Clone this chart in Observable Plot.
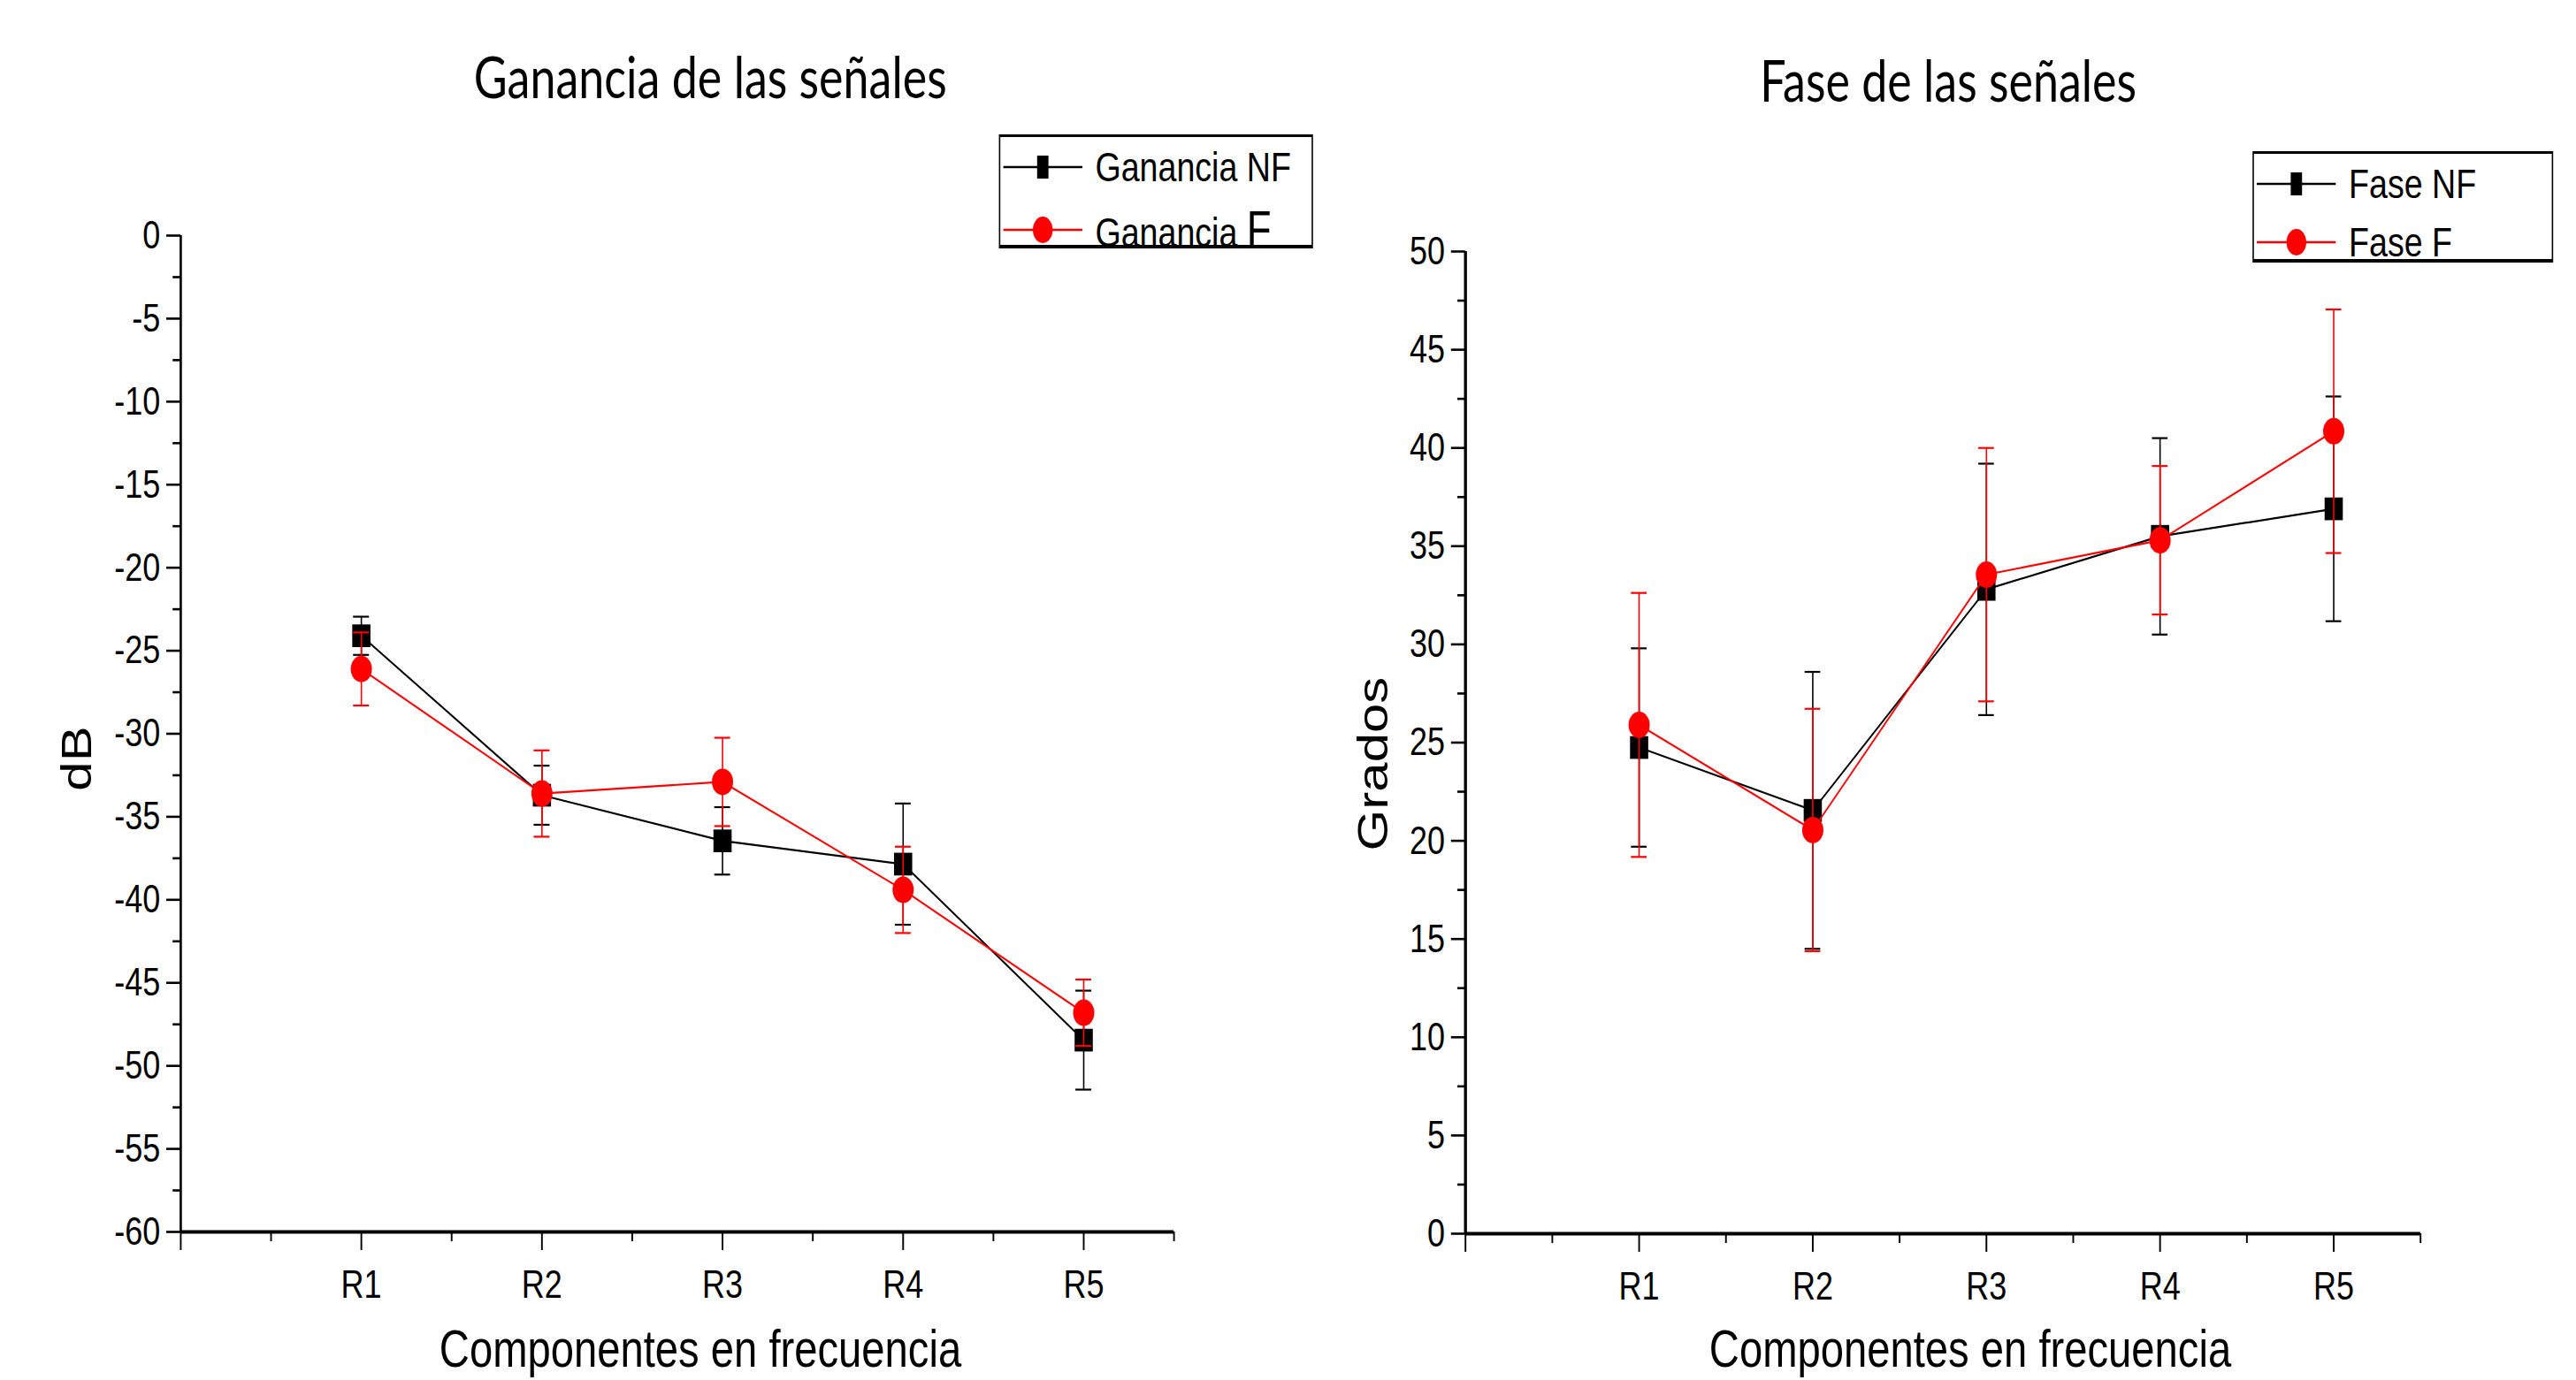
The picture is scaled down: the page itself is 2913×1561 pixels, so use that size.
<!DOCTYPE html>
<html><head><meta charset="utf-8">
<script src="https://cdn.jsdelivr.net/npm/d3@7"></script>
<script src="https://cdn.jsdelivr.net/npm/@observablehq/plot@0.6"></script>
<style>
html,body{margin:0;background:#fff;overflow:hidden;width:2913px;height:1561px;}
#root{position:relative;width:3641px;height:1561px;overflow:hidden;background:#fff;
  transform:scaleX(0.8);transform-origin:0 0;
  font-family:"Liberation Sans",Arial,sans-serif;color:#000;}
.abs{position:absolute;white-space:nowrap;line-height:1;}
.title{font-family:Lato,"Open Sans",sans-serif;font-size:65px;transform:translateX(-50%);}
.xlab{font-size:59px;transform:translateX(-50%);}
.ylab{font-size:60px;transform:translate(-50%,-50%) rotate(-90deg);}
.legend{position:absolute;border:2px solid #000;border-bottom-width:4px;border-top-width:3px;background:#fff;box-sizing:border-box;}
.row{position:absolute;left:4px;display:flex;align-items:center;font-size:47px;line-height:1;white-space:nowrap;}
.row svg{margin-right:18px;}
.plot{position:absolute;top:0;}
</style></head>
<body><div id="root"></div>
<script>
const categories = ["R1","R2","R3","R4","R5"];
const gainNF    = [-24.1, -33.7, -36.45, -37.85, -48.45];
const gainNFErr = [1.15, 1.78, 2.03, 3.65, 2.98];
const gainF     = [-26.1, -33.6, -32.9, -39.4, -46.8];
const gainFErr  = [2.2, 2.6, 2.66, 2.6, 2.0];
const phaseNF    = [24.75, 21.55, 32.8, 35.5, 36.9];
const phaseNFErr = [5.05, 7.05, 6.4, 5.0, 5.72];
const phaseF     = [25.9, 20.55, 33.55, 35.3, 40.85];
const phaseFErr  = [6.72, 6.17, 6.45, 3.78, 6.2];
const gainTicks = d3.range(-60, 1, 5);
const phaseTicks = d3.range(0, 51, 5);

const root = document.getElementById("root");
const FONT = '"Liberation Sans",Arial,sans-serif';

function rows(vals, errs){ return vals.map((v,i)=>({x:i+1, y:v, e:errs[i], c:categories[i]})); }

function series(data, color, symbol, r, capHalf){
  return [
    Plot.ruleX(data, {x:"x", y1:d=>d.y-d.e, y2:d=>d.y+d.e, stroke:color, strokeWidth:2}),
    Plot.ruleY(data, {y:d=>d.y-d.e, x1:d=>d.x-capHalf, x2:d=>d.x+capHalf, stroke:color, strokeWidth:2.2}),
    Plot.ruleY(data, {y:d=>d.y+d.e, x1:d=>d.x-capHalf, x2:d=>d.x+capHalf, stroke:color, strokeWidth:2.2}),
    Plot.line(data, {x:"x", y:"y", stroke:color, strokeWidth:2.2}),
    Plot.dot(data, {x:"x", y:"y", symbol, r, fill:color, stroke:null})
  ];
}

function chart(o){
  const minor = d3.range(o.yDomain[0]+2.5, o.yDomain[1], 5);
  const p = Plot.plot({
    width:o.width, height:1561,
    marginLeft:o.ml, marginRight:o.mr, marginTop:o.mt, marginBottom:o.mb,
    x:{domain:[0,5.5]}, y:{domain:o.yDomain},
    style:{fontFamily:FONT, color:"black", background:"transparent", overflow:"visible"},
    marks:[
      Plot.axisY({ticks:o.yTicks, tickSize:20, tickPadding:9, tickFormat:d=>String(d), fontSize:45, strokeWidth:2.6, label:null}),
      Plot.axisY({ticks:minor, tickSize:11, tickFormat:()=>"", strokeWidth:2.6, label:null}),
      Plot.axisX({ticks:[0,1,2,3,4,5], tickSize:21, tickPadding:22, tickFormat:d=>d>=1?categories[d-1]:"", fontSize:45, strokeWidth:2.4, label:null}),
      Plot.axisX({ticks:d3.range(0.5,5.6,1), tickSize:11, tickFormat:()=>"", strokeWidth:2.4, label:null}),
      Plot.ruleX([0], {stroke:"black", strokeWidth:o.axisW}),
      Plot.ruleY([o.yDomain[0]], {stroke:"black", strokeWidth:4}),
      ...series(rows(o.s1,o.e1), "black", "square", 14.5, o.cap),
      ...series(rows(o.s2,o.e2), "#ff0000", "circle", 15, o.cap)
    ]
  });
  p.classList.add("plot");
  p.style.left = o.left + "px";
  root.appendChild(p);
}

chart({left:0, width:1820, ml:255, mr:161, mt:266, mb:168, yDomain:[-60,0], yTicks:gainTicks,
  s1:gainNF, e1:gainNFErr, s2:gainF, e2:gainFErr, axisW:3.3, cap:0.044});
chart({left:1820, width:1821, ml:251, mr:220, mt:284, mb:166, yDomain:[0,50], yTicks:phaseTicks,
  s1:phaseNF, e1:phaseNFErr, s2:phaseF, e2:phaseFErr, axisW:4.2, cap:0.045});

function addText(cls, txt, x, y){
  const d = document.createElement("div");
  d.className = "abs " + cls; d.textContent = txt;
  d.style.left = x + "px"; d.style.top = y + "px";
  root.appendChild(d); return d;
}
addText("title", "Ganancia de las señales", 1004, 54);
addText("title", "Fase de las señales", 2754, 58);
addText("xlab", "Componentes en frecuencia", 990, 1497);
addText("xlab", "Componentes en frecuencia", 2785, 1497);
addText("ylab", "dB", 109, 858);
addText("ylab", "Grados", 1941, 864);

function swatch(color, shape){
  const m = shape==="square"
    ? `<rect x="48" y="7" width="16" height="26" fill="${color}"/>`
    : `<ellipse cx="56" cy="20" rx="14" ry="15" fill="${color}"/>`;
  return `<svg width="112" height="40"><line x1="0" x2="112" y1="20" y2="20" stroke="${color}" stroke-width="2.4"/>${m}</svg>`;
}
function legend(x, y, w, h, items){
  const L = document.createElement("div");
  L.className = "legend";
  Object.assign(L.style, {left:x+"px", top:y+"px", width:w+"px", height:h+"px"});
  items.forEach((it,i)=>{
    const r = document.createElement("div");
    r.className = "row";
    r.style.top = (i===0 ? 10 : 76) + "px";
    r.innerHTML = swatch(it.color, it.shape) + `<span>${it.html}</span>`;
    L.appendChild(r);
  });
  root.appendChild(L);
}
legend(1412, 152, 444, 129, [
  {color:"black", shape:"square", html:"Ganancia NF"},
  {color:"#ff0000", shape:"circle", html:'Ganancia <span style="font-size:57px">F</span>'}
]);
legend(3184, 171, 425, 126, [
  {color:"black", shape:"square", html:"Fase NF"},
  {color:"#ff0000", shape:"circle", html:"Fase F"}
]);
</script>
</body></html>
